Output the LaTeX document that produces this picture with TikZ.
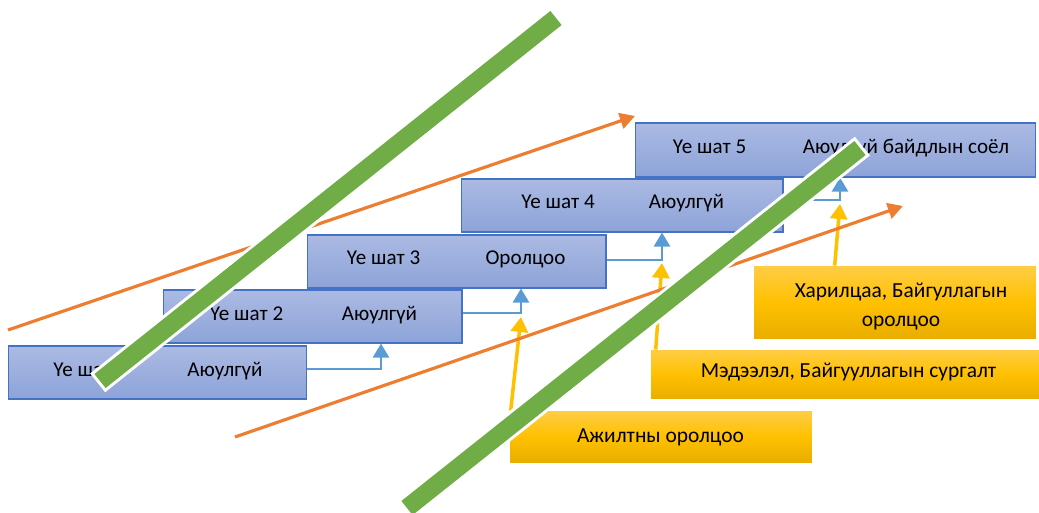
\documentclass[tikz,border=0pt]{standalone}
\usepackage{fontspec}
\setmainfont{Carlito}
\usetikzlibrary{arrows.meta}
\definecolor{boxline}{HTML}{4472C4}
\definecolor{boxtop}{HTML}{ABBAE3}
\definecolor{boxbottom}{HTML}{8DA3D8}
\definecolor{linkblue}{HTML}{5B9BD5}
\definecolor{goldtop}{HTML}{FFCD45}
\definecolor{gold}{HTML}{FFC000}
\definecolor{goldbottom}{HTML}{E8AE00}
\definecolor{trendorange}{HTML}{ED7D31}
\definecolor{bargreen}{HTML}{70AD47}
\begin{document}
\begin{tikzpicture}[x=0.02cm,y=-0.02cm,
		stage/.style={draw=boxline,line width=0.6pt,top color=boxtop,bottom color=boxbottom,minimum height=1.06cm,inner sep=0pt},
		factor/.style={top color=goldtop,bottom color=goldbottom,middle color=gold,inner sep=0pt},
		word/.style={anchor=base,inner sep=0pt,font=\fontsize{12}{14}\selectfont},
		gword/.style={anchor=base,inner sep=0pt,font=\fontsize{12.2}{14}\selectfont},
		link/.style={linkblue,line width=1.4pt,-{Triangle[width=0.32cm,length=0.28cm]}},
		feed/.style={gold,line width=2pt,-{Triangle[width=0.34cm,length=0.3cm]}},
		trend/.style={trendorange,line width=1.8pt,-{Triangle[width=0.32cm,length=0.3cm]}},
		bar/.style={bargreen,line width=0.36cm},
		barrim/.style={white,line width=0.48cm,shorten <=-0.06cm,shorten >=-0.06cm}]
		\useasboundingbox (0,0) rectangle (1039,513);
		
		% stufen
		\node[stage,minimum width=5.98cm] (s1) at (157.5,372.5) {};
		\node[stage,minimum width=5.98cm] (s2) at (312.5,316.5) {};
		\node[stage,minimum width=5.98cm] (s3) at (456.5,261.5) {};
		\node[stage,minimum width=6.44cm] (s4) at (622,205.5) {};
		\node[stage,minimum width=8.02cm,minimum height=1.08cm] (s5) at (835.5,150) {};
		
		\node[word] (s1a) at (90,377) {Үе шат 1};
		\node[word] (s1b) at (225,377) {Аюулгүй};
		\node[word] (s2a) at (246.5,321) {Үе шат 2};
		\node[word] (s2b) at (379.5,321) {Аюулгүй};
		\node[word] (s3a) at (383.5,265) {Үе шат 3};
		\node[word] (s3b) at (525.5,265) {Оролцоо};
		\node[word] (s4a) at (558,209) {Үе шат 4};
		\node[word] (s4b) at (686.5,209) {Аюулгүй};
		\node[word] (s5a) at (709.5,154) {Үе шат 5};
		\node[word] (s5b) at (906,154) {Аюулгүй байдлын соёл};
		
		\coordinate (e1) at (381,369);
		\coordinate (e2) at (521,313);
		\coordinate (e3) at (662,260);
		\coordinate (e4) at (840,200);
		\draw[link] (s1.east |- e1) -- (e1) -- (e1 |- s2.south);
		\draw[link] (s2.east |- e2) -- (e2) -- (e2 |- s3.south);
		\draw[link] (s3.east |- e3) -- (e3) -- (e3 |- s4.south);
		\draw[link] (s4.east |- e4) -- (e4) -- (e4 |- s5.south);
		
		% faktoren
		\node[factor,minimum width=6.04cm,minimum height=1.04cm] (y1) at (661,437) {};
		\node[factor,minimum width=7.76cm,minimum height=0.98cm] (y2) at (845,374.5) {};
		\node[factor,minimum width=5.64cm,minimum height=1.46cm] (y3) at (895,302.5) {};
		\node[gword] (y1t) at (660.5,442.5) {Ажилтны оролцоо};
		\node[gword] (y2t) at (848.5,377.5) {Мэдээлэл, Байгууллагын сургалт};
		\node[gword] (y3t) at (901,297.5) {Харилцаа, Байгуллагын};
		\node[gword] (y3u) at (901,326.5) {оролцоо};
		
		\draw[feed] ([xshift=0.02cm]y1.north west) -- ([yshift=-0.08cm]e2);
		\draw[feed] ([xshift=0.1cm]y2.north west) -- ([yshift=-0.06cm]e3);
		\draw[feed] ([xshift=1.62cm]y3.north west) -- ([yshift=-0.08cm]e4);
		
		\coordinate (o1a) at (8,330);
		\coordinate (o1b) at (635,116);
		\coordinate (o2a) at (235,437);
		\coordinate (o2b) at (903,206);
		\draw[trend] (o1a) -- (o1b);
		\draw[trend] (o2a) -- (o2b);
		
		% balken
		\coordinate (g1a) at (100,381);
		\coordinate (g1b) at (556,18);
		\coordinate (g2a) at (407,508);
		\coordinate (g2b) at (860,148);
		\draw[barrim] (g1a) -- (g1b);
		\draw[bar] (g1a) -- (g1b);
		\draw[barrim] (g2a) -- (g2b);
		\draw[bar] (g2a) -- (g2b);
	\end{tikzpicture}
\end{document}
